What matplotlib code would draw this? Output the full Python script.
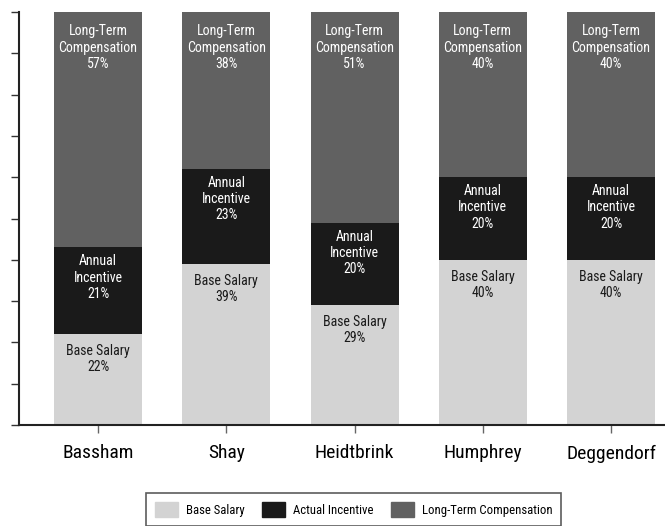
import matplotlib.pyplot as plt
from matplotlib.patches import Patch

plt.rcParams['font.family'] = ['Roboto Condensed', 'Roboto', 'DejaVu Sans']

names = ["Bassham", "Shay", "Heidtbrink", "Humphrey", "Deggendorf"]
base = [22, 39, 29, 40, 40]
incentive = [21, 23, 20, 20, 20]
longterm = [57, 38, 51, 40, 40]

c_base = "#d3d3d3"
c_inc = "#1a1a1a"
c_lt = "#616161"

fig = plt.figure(figsize=(6.65, 5.26), dpi=100)
ax = fig.add_axes([19 / 665, 101 / 526, 1 - 19 / 665, 413 / 526])

x = list(range(len(names)))
w = 0.686
ax.bar(x, base, w, color=c_base)
ax.bar(x, incentive, w, bottom=base, color=c_inc)
bottom3 = [b + i for b, i in zip(base, incentive)]
ax.bar(x, longterm, w, bottom=bottom3, color=c_lt)

for i in x:
    ax.annotate(f"Base Salary\n{base[i]}%", (i, base[i]), xytext=(0, -7),
                textcoords="offset points", ha="center", va="top",
                fontsize=10, color="#1a1a1a", linespacing=1.2)
    ax.annotate(f"Annual\nIncentive\n{incentive[i]}%", (i, bottom3[i]), xytext=(0, -5),
                textcoords="offset points", ha="center", va="top",
                fontsize=10, color="white", linespacing=1.2)
    ax.annotate(f"Long-Term\nCompensation\n{longterm[i]}%", (i, 100), xytext=(0, -9),
                textcoords="offset points", ha="center", va="top",
                fontsize=10, color="white", linespacing=1.2)

ax.set_xlim(-0.616, 4.42)
ax.set_ylim(0, 100)
ax.set_yticks(range(0, 101, 10))
ax.set_yticklabels([])
ax.set_xticks(x)
ax.set_xticklabels(names, fontsize=14)
ax.tick_params(axis="y", length=6, width=1, color="#333333")
ax.tick_params(axis="x", length=6, width=1, color="#666666", pad=8)
for s in ["top", "right"]:
    ax.spines[s].set_visible(False)
for s in ["left", "bottom"]:
    ax.spines[s].set_linewidth(1.5)
    ax.spines[s].set_color("#222222")

handles = [Patch(color=c_base, label="Base Salary"),
           Patch(color=c_inc, label="Actual Incentive"),
           Patch(color=c_lt, label="Long-Term Compensation")]
leg = fig.legend(handles=handles, loc="upper center", bbox_to_anchor=(0.532, 1 - 493 / 526),
                 ncol=3, frameon=True, fancybox=False, edgecolor="#333333",
                 fontsize=9.2, handlelength=1.8, handleheight=1.4, columnspacing=1.4,
                 handletextpad=0.6, borderpad=0.7, borderaxespad=0)
leg.get_frame().set_linewidth(1.2)

fig.savefig("out.png", dpi=100)
